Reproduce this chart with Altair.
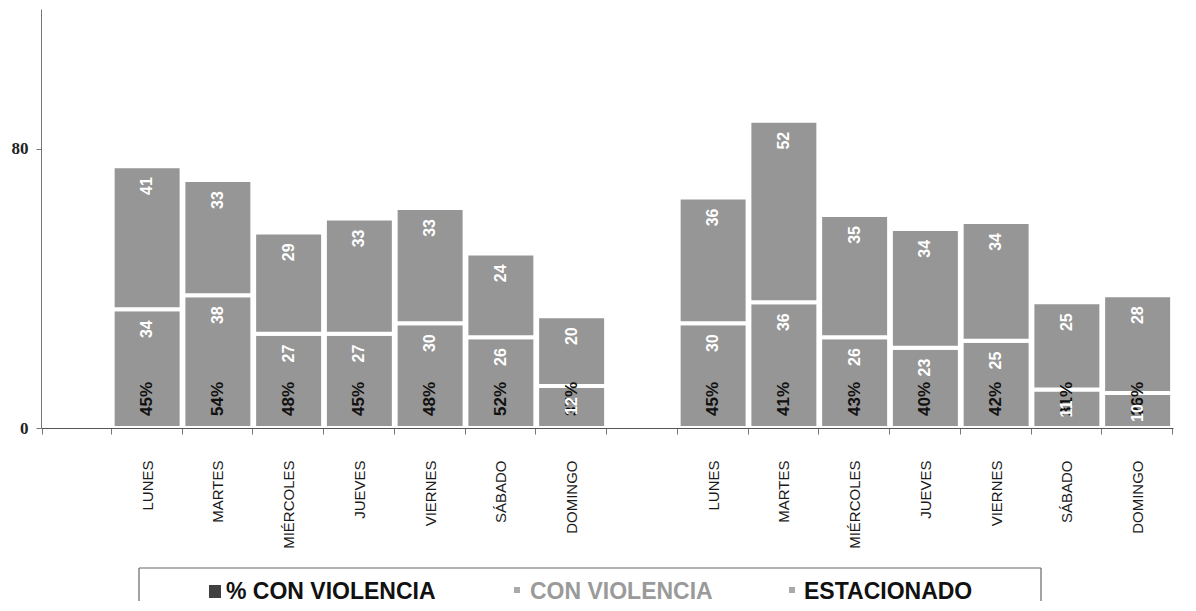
import altair as alt
import pandas as pd

days = ["LUNES", "MARTES", "MIÉRCOLES", "JUEVES", "VIERNES", "SÁBADO", "DOMINGO"]
g1_con = [34, 38, 27, 27, 30, 26, 12]
g1_est = [41, 33, 29, 33, 33, 24, 20]
g1_pct = ["45%", "54%", "48%", "45%", "48%", "52%", "37%"]
g2_con = [30, 36, 26, 23, 25, 11, 10]
g2_est = [36, 52, 35, 34, 34, 25, 28]
g2_pct = ["45%", "41%", "43%", "40%", "42%", "31%", "26%"]
legend_labels = ["% CON VIOLENCIA", "CON VIOLENCIA", "ESTACIONADO"]
y_ticks = [0, 80]

BAR = "#969696"
FONT = "Liberation Sans"

slots = ["A|"] + [f"1{i}|{d}" for i, d in enumerate(days)] + ["B|"] + [f"2{i}|{d}" for i, d in enumerate(days)]

seg_rows = []
pct_rows = []
for g, (con, est, pct) in enumerate([(g1_con, g1_est, g1_pct), (g2_con, g2_est, g2_pct)], start=1):
    for i, d in enumerate(days):
        key = f"{g}{i}|{d}"
        seg_rows.append({"slot": key, "seg": "CON VIOLENCIA", "y0": 0, "y1": con[i], "val": str(con[i])})
        seg_rows.append({"slot": key, "seg": "ESTACIONADO", "y0": con[i], "y1": con[i] + est[i], "val": str(est[i])})
        pct_rows.append({"slot": key, "pct": pct[i], "zero": 0})
seg = pd.DataFrame(seg_rows)
pct = pd.DataFrame(pct_rows)

xscale = alt.Scale(domain=slots, paddingInner=0.025, paddingOuter=0.0125)
yscale = alt.Scale(domain=[0, 120], nice=False, zero=True)

xaxis = alt.Axis(
    title=None, labelExpr="split(datum.label, '|')[1]", labelAngle=-90,
    tickBand="extent", tickSize=6, labelPadding=26, labelFont=FONT, labelFontSize=15,
    labelColor="#1a1a1a", domainColor="#555555", tickColor="#777777", zindex=1,
    labelLimit=0,
)
yaxis = alt.Axis(
    title=None, values=y_ticks, tickSize=5, labelPadding=8, labelFont="Liberation Serif",
    labelFontWeight="bold", labelFontSize=17, labelColor="#222222", domainColor="#777777",
    tickColor="#777777", grid=False, minExtent=27, maxExtent=27, zindex=1,
)

bars = alt.Chart(seg).mark_bar(color=BAR, stroke="white", strokeWidth=4).encode(
    x=alt.X("slot:N", scale=xscale, axis=xaxis, sort=slots),
    y=alt.Y("y0:Q", scale=yscale, axis=yaxis),
    y2="y1:Q",
)

pct_text = alt.Chart(pct).mark_text(
    angle=270, align="left", baseline="middle", dx=12, color="#111111",
    fontWeight="bold", fontSize=17, font=FONT,
).encode(x=alt.X("slot:N", sort=slots), y="zero:Q", text="pct:N")

val_text = alt.Chart(seg).mark_text(
    angle=270, align="right", baseline="middle", dx=-11, color="white",
    fontWeight="bold", fontSize=16, font=FONT,
).encode(x=alt.X("slot:N", sort=slots), y="y1:Q", text="val:N")

one = pd.DataFrame({"k": [0]})

def rule(x, x2, y, y2):
    return alt.Chart(one).mark_rule(color="#666666", strokeWidth=1.2).encode(
        x=alt.value(x), x2=alt.value(x2), y=alt.value(y), y2=alt.value(y2))

def square(x, x2, y, y2, color):
    return alt.Chart(one).mark_rect(color=color).encode(
        x=alt.value(x), x2=alt.value(x2), y=alt.value(y), y2=alt.value(y2))

def ltext(label, x, color):
    return alt.Chart(pd.DataFrame({"label": [label]})).mark_text(
        align="left", baseline="alphabetic", fontSize=23, fontWeight="bold", font=FONT, color=color,
    ).encode(x=alt.value(x), y=alt.value(590), text="label:N")

legend = [
    rule(98, 1000, 559, 559),
    rule(98, 98, 559, 592),
    rule(1000, 1000, 559, 592),
    square(168, 180, 576, 589, "#404040"),
    ltext(legend_labels[0], 185, "#111111"),
    square(473, 479, 578, 584, "#aaaaaa"),
    ltext(legend_labels[1], 489, "#9a9a9a"),
    square(748, 754, 578, 584, "#aaaaaa"),
    ltext(legend_labels[2], 763, "#111111"),
]

chart = alt.layer(bars, pct_text, val_text, *legend).properties(
    width=1132, height=419,
    padding={"left": 3, "top": 1, "right": 5, "bottom": 0},
).configure(background="white").configure_view(strokeWidth=0, stroke="transparent")

chart.save("out.html", embed_options={"renderer": "svg", "actions": False})
